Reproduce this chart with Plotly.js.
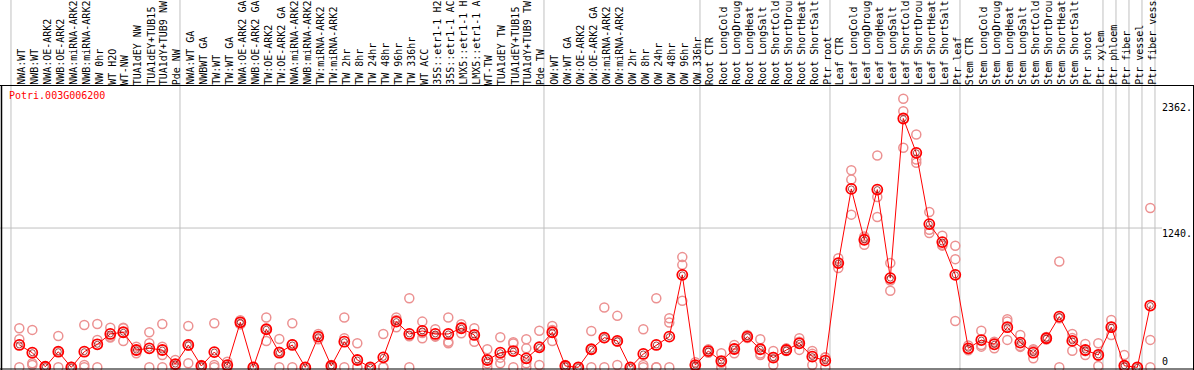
<!DOCTYPE html>
<html>
<head>
<meta charset="utf-8">
<script src="https://cdn.plot.ly/plotly-3.0.1.min.js"></script>
<style>
html,body{margin:0;padding:0;background:#ffffff;}
#chart{width:1194px;height:370px;}
</style>
</head>
<body>
<div id="chart"></div>
<script>
const geneName = "Potri.003G006200";

const sampleLabels = [
  "NWA:WT","NWB:WT","NWA:OE-ARK2","NWB:OE-ARK2","NWA:miRNA-ARK2","NWB:miRNA-ARK2","NW 0hr","WT H2O","WT-NW","TUA1dEY NW","TUA1dEY+TUB15","TUA1dY+TUB9 NW","Pde NW",
  "NWA:WT GA","NWBWT GA","TW:WT","TW:WT GA","NWA:OE-ARK2 GA","NWB:OE-ARK2 GA","TW:OE-ARK2","TW:OE-ARK2 GA","NWA:miRNA-ARK2","NWB:miRNA-ARK2","TW:miRNA-ARK2","TW:miRNA-ARK2","TW 2hr","TW 8hr","TW 24hr","TW 48hr","TW 96hr","TW 336hr","WT ACC","35S::etr1-1 H2","35S::etr1-1 AC","LMX5::etr1-1 H","LMX5::etr1-1 A","WT-TW","TUA1dEY TW","TUA1dEY+TUB15","TUA1dY+TUB9 TW","Pde TW",
  "OW:WT","OW:WT GA","OW:OE-ARK2","OW:OE-ARK2 GA","OW:miRNA-ARK2","OW:miRNA-ARK2","OW 2hr","OW 8hr","OW 24hr","OW 48hr","OW 96hr","OW 336hr",
  "Root CTR","Root LongCold","Root LongDroug","Root LongHeat","Root LongSalt","Root ShortCold","Root ShortDrou","Root ShortHeat","Root ShortSalt","Ptr root",
  "Leaf CTR","Leaf LongCold","Leaf LongDroug","Leaf LongHeat","Leaf LongSalt","Leaf ShortCold","Leaf ShortDrou","Leaf ShortHeat","Leaf ShortSalt","Ptr leaf",
  "Stem CTR","Stem LongCold","Stem LongDroug","Stem LongHeat","Stem LongSalt","Stem ShortCold","Stem ShortDrou","Stem ShortHeat","Stem ShortSalt","Ptr shoot","Ptr xylem",
  "Ptr phloem","Ptr fiber","Ptr vessel","Ptr fiber vess"
];

// index of the first sample of each group (last entry = number of samples)
const groupStarts = [0, 13, 41, 53, 63, 73, 84, 85, 86, 87, 88];

const meanValues = [
  199,130,5,139,0,139,205,297,312,154,169,154,29,
  199,12,136,20,401,0,339,130,199,0,273,12,228,65,0,89,407,297,324,297,297,348,288,65,130,145,80,178,
  312,12,0,161,264,235,0,119,199,273,823,20,
  145,56,163,273,161,86,154,214,95,59,
  928,1588,1135,1582,794,2215,1909,1275,1115,823,
  169,243,205,357,220,130,259,452,235,154,110,
  357,14,0,550
];

const replicateValues = [
  [348,250,0],[333,36,20],[10,5,0],[279,139,0],[5,0,0],[377,20,0],[386,244,0],[353,273,265],[348,353,235],[184,153,125],[312,214,0],[386,184,110,0],[65,20,0],
  [368,193,36],[20,10,5],[392,20,0],[50,10,0],[420,401,382],[0,0,0],[443,339,235],[252,138,0],[392,205,0],[0,0,0],[297,273,250],[20,10,5],[443,259,0],[214,0,0],[0,0,0],[297,0,0],[443,422,356],[615,276,0],[407,306,259],[339,279,273],[443,228,214],[383,358,303],[348,288,228],[161,35,0],[268,86,36],[223,212,0],[250,169,36,0],[326,188,20],
  [368,333,235],[20,10,5],[0,0,0],[324,160,0],[532,260,0],[458,228,20],[0,0,0],[339,20,0],[615,0,0],[437,398,0],[981,912,592],[45,15,0],
  [160,145,130],[125,40,0],[199,165,125],[288,270,260],[250,123,110],[145,93,20],[169,148,145],[259,228,155],[145,120,20],[89,88,0],
  [972,928,883],[1754,1671,1359],[1165,1149,1091],[1885,1516,1338],[928,773,681],[2390,2280,1954],[2072,1849,1820],[1383,1225,1195],[1171,1091,1083],[1082,963,413],
  [195,160,152],[326,199,184],[228,218,169],[428,407,244],[288,190,182],[161,150,80],[270,259,248],[942,437,0],[297,260,148],[208,144,110],[214,104,12],
  [422,361,288],[110,0,0],[0,0,0],[1418,244,0]
];

const yTickValues = [2362, 1240, 0];
const yTickLabels = ["2362.", "1240.", "0"];
const yGridValues = [1240];

// ---- layout helpers ----
const W = 1194, H = 370;
const M = {l: 2, r: 1, t: 85, b: 2};
const PW = W - M.l - M.r, PH = H - M.t - M.b;
const X_RANGE = [-1.331, 90.285];
const Y_RANGE = [-6, 2513];
const px2paperX = p => (p - M.l) / PW;
const py2paperY = p => (H - M.b - p) / PH;
const dataX2paper = v => (v - X_RANGE[0]) / (X_RANGE[1] - X_RANGE[0]);

const xIdx = sampleLabels.map((_, i) => i);

const repX = [], repY = [];
replicateValues.forEach((arr, i) => arr.forEach(v => { repX.push(i); repY.push(v); }));

const MONO = "DejaVu Sans Mono, Liberation Mono, monospace";

const traces = [
  {
    x: repX, y: repY, type: 'scatter', mode: 'markers', hoverinfo: 'skip',
    marker: {symbol: 'circle-open', size: 9, color: 'rgb(236,145,145)', line: {width: 1.5, color: 'rgb(236,145,145)'}},
    cliponaxis: false
  },
  {
    x: xIdx, y: meanValues, type: 'scatter', mode: 'lines+markers',
    line: {color: '#ff0000', width: 1},
    marker: {symbol: 'circle-open', size: 10, color: '#ff0000', line: {width: 1.8, color: '#ff0000'}},
    cliponaxis: false
  },
  {
    x: xIdx, y: meanValues, type: 'scatter', mode: 'markers', hoverinfo: 'skip',
    marker: {symbol: 'circle-open', size: 6, color: '#7a0000', line: {width: 0.7, color: '#7a0000'}},
    cliponaxis: false
  }
];

const shapes = [];
// vertical group separators
groupStarts.forEach(b => {
  const xp = dataX2paper(b - 0.64);
  shapes.push({type: 'line', xref: 'paper', yref: 'paper', x0: xp, x1: xp,
    y0: py2paperY(H + 2), y1: py2paperY(-2), line: {color: '#c0c0c0', width: 1}, layer: 'below'});
});
// horizontal grid
yGridValues.forEach(v => {
  shapes.push({type: 'line', xref: 'paper', yref: 'y', x0: px2paperX(-2), x1: px2paperX(1162),
    y0: v, y1: v, line: {color: '#c0c0c0', width: 1}, layer: 'below'});
});
// frame
const black = {color: '#000000', width: 1};
shapes.push({type: 'line', xref: 'paper', yref: 'paper', x0: px2paperX(-2), x1: px2paperX(W + 2), y0: py2paperY(85.5), y1: py2paperY(85.5), line: black});
shapes.push({type: 'line', xref: 'paper', yref: 'paper', x0: px2paperX(-2), x1: px2paperX(W + 2), y0: py2paperY(369), y1: py2paperY(369), line: black});
shapes.push({type: 'line', xref: 'paper', yref: 'paper', x0: px2paperX(1.5), x1: px2paperX(1.5), y0: py2paperY(85.5), y1: py2paperY(H + 2), line: {color: '#000', width: 1.5}});
shapes.push({type: 'line', xref: 'paper', yref: 'paper', x0: px2paperX(1193.5), x1: px2paperX(1193.5), y0: py2paperY(85.5), y1: py2paperY(H + 2), line: black});

const annotations = [];
sampleLabels.forEach((lab, i) => {
  annotations.push({text: lab, xref: 'x', yref: 'paper', x: i + 0.12, y: 1,
    xanchor: 'center', yanchor: 'bottom', textangle: -90, showarrow: false,
    font: {family: MONO, size: 10, color: '#000000'}, borderpad: 0, borderwidth: 0});
});
yTickValues.forEach((v, k) => {
  annotations.push({text: yTickLabels[k], xref: 'paper', yref: 'y', x: px2paperX(1162), y: v,
    xanchor: 'left', yanchor: v === 0 ? 'bottom' : 'top', showarrow: false,
    font: {family: MONO, size: 10, color: '#000000'}, borderpad: 0, borderwidth: 0});
});
annotations.push({text: geneName, xref: 'paper', yref: 'paper', x: px2paperX(9), y: py2paperY(90),
  xanchor: 'left', yanchor: 'top', showarrow: false,
  font: {family: MONO, size: 10, color: '#ff0000'}, borderpad: 0, borderwidth: 0});

const layout = {
  width: W, height: H, margin: M,
  paper_bgcolor: '#ffffff', plot_bgcolor: '#ffffff',
  showlegend: false,
  xaxis: {range: X_RANGE, visible: false, showgrid: false, zeroline: false, fixedrange: true},
  yaxis: {range: Y_RANGE, visible: false, showgrid: false, zeroline: false, fixedrange: true},
  shapes: shapes, annotations: annotations, hovermode: false
};

Plotly.newPlot('chart', traces, layout, {displayModeBar: false, staticPlot: true});
</script>
</body>
</html>
